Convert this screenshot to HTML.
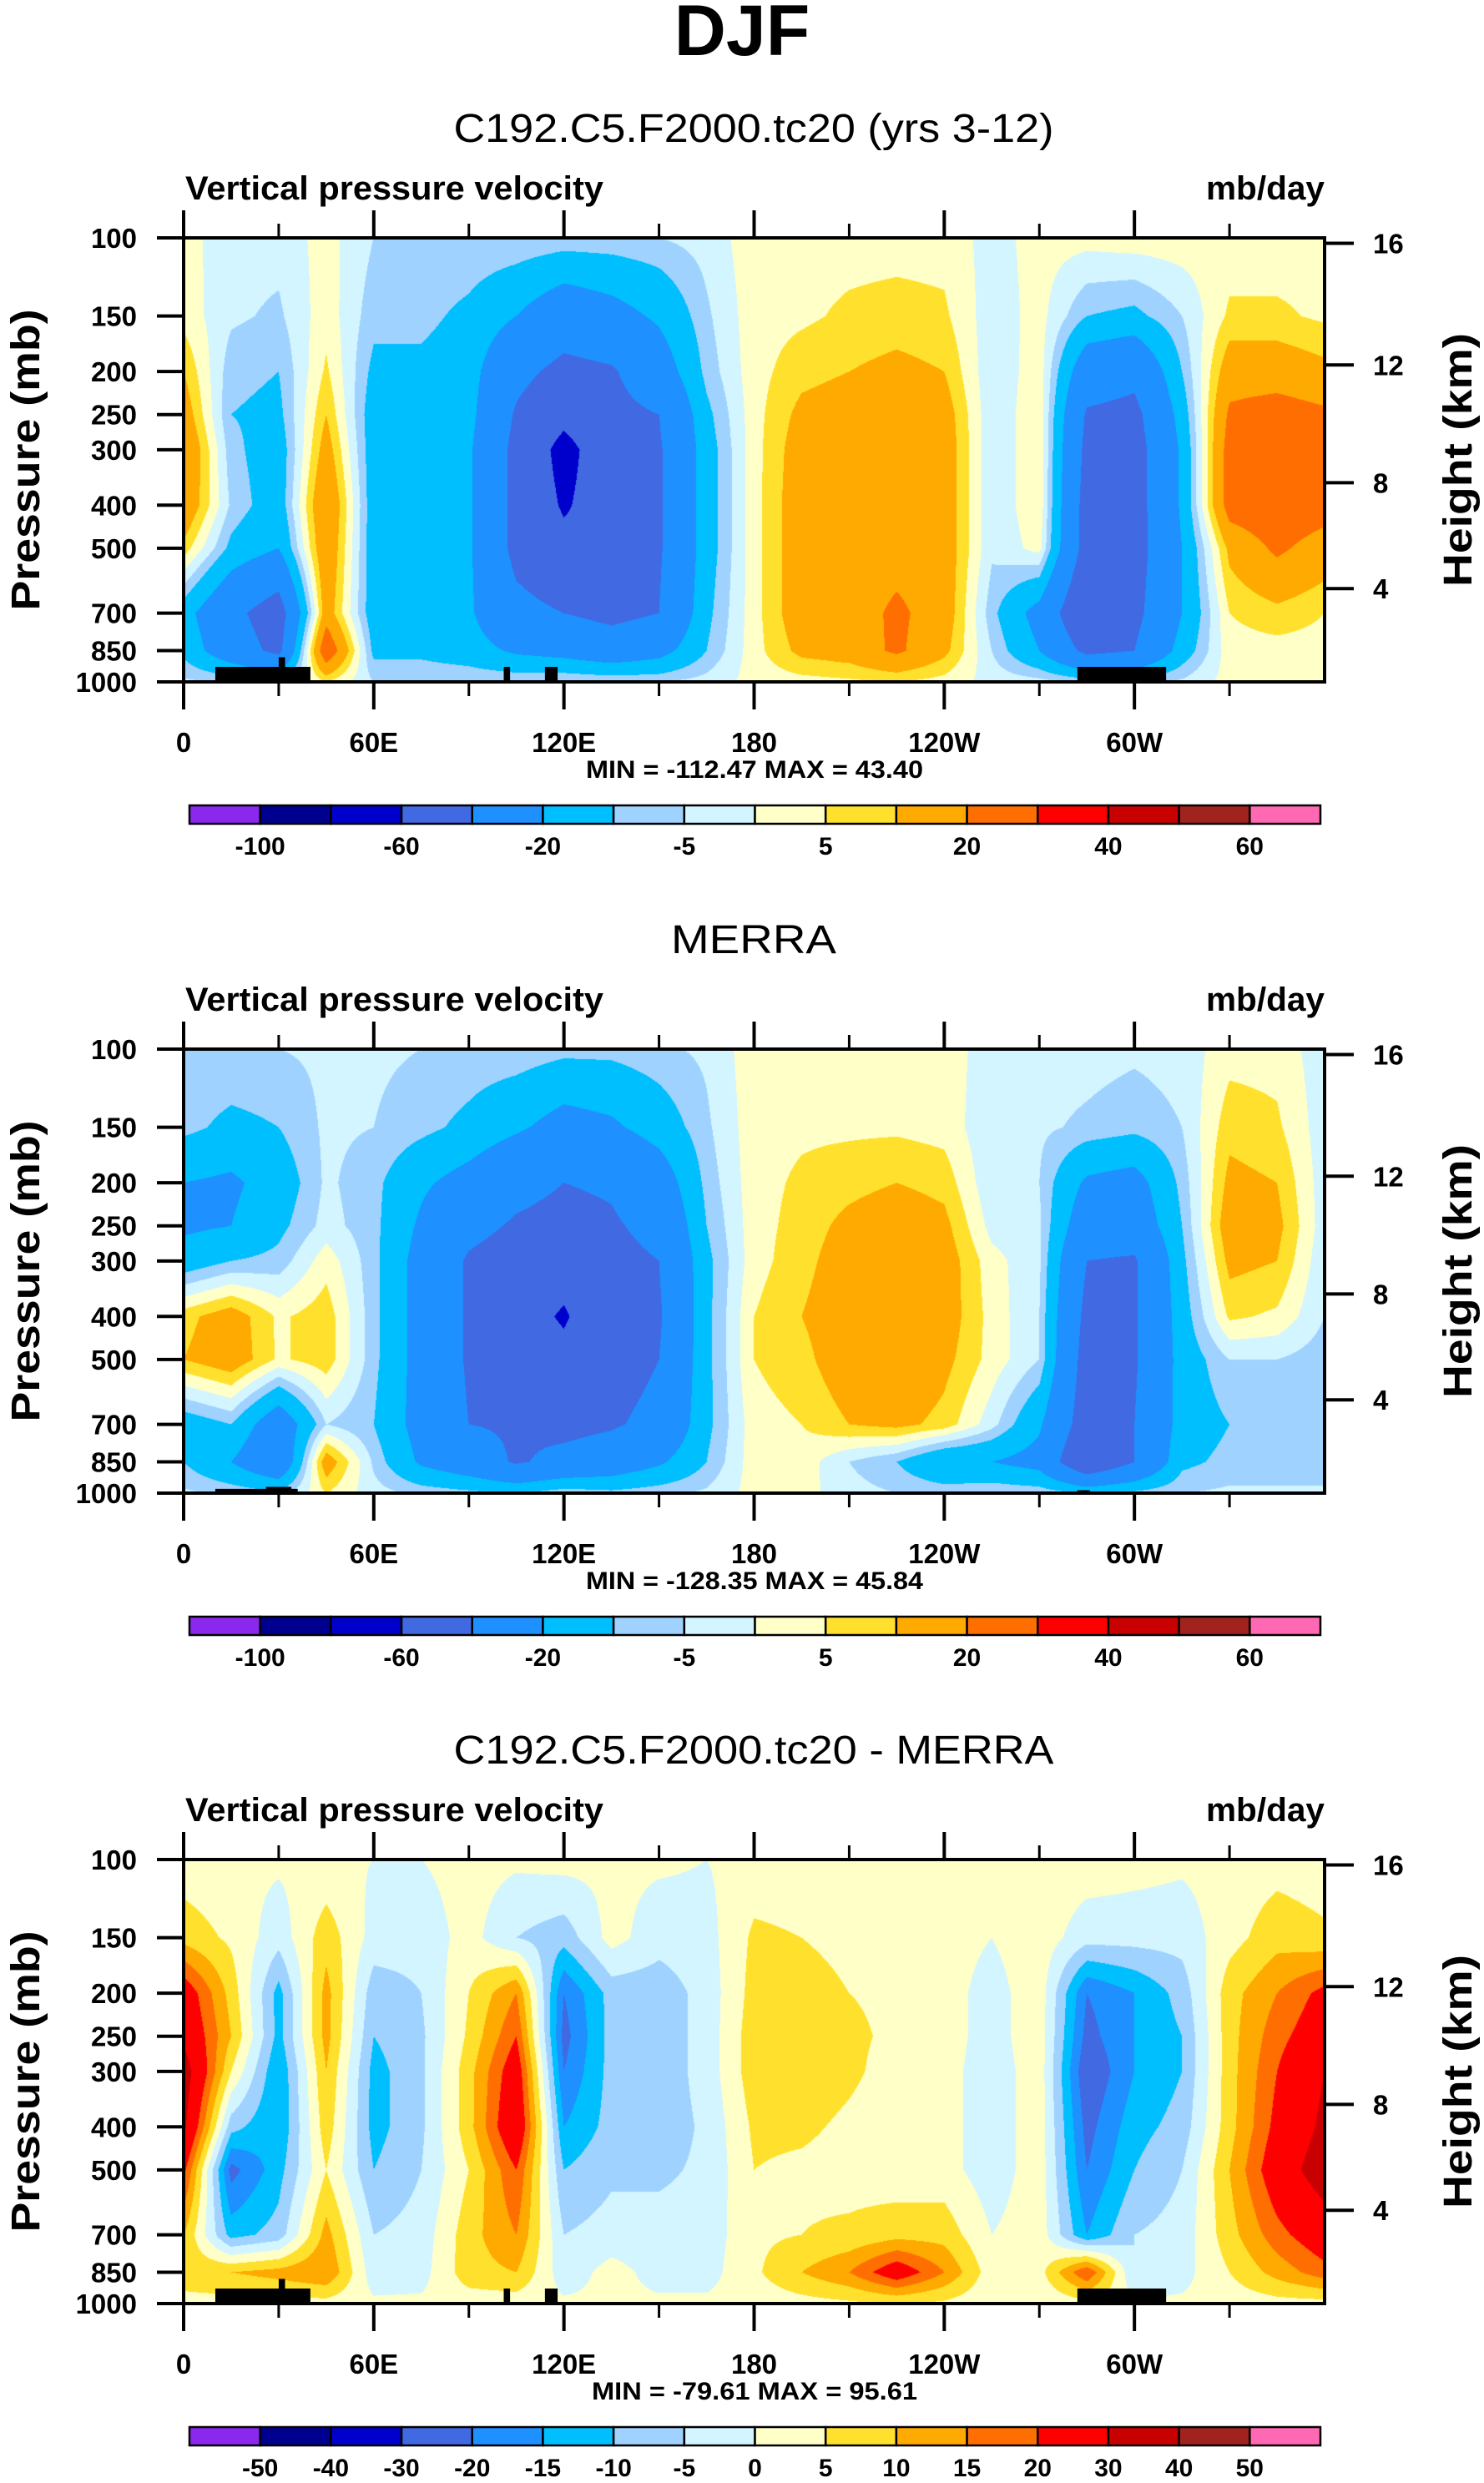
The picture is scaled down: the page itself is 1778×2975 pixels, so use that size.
<!DOCTYPE html>
<html><head><meta charset="utf-8">
<style>
html,body{margin:0;padding:0;background:#fff;}
#wrap{position:relative;width:1778px;height:2975px;overflow:hidden;}
canvas{position:absolute;}
svg{position:absolute;left:0;top:0;}
text{font-family:"Liberation Sans",sans-serif;fill:#000;}
</style></head>
<body>
<div id="wrap">
<canvas id="c0"></canvas>
<canvas id="c1"></canvas>
<canvas id="c2"></canvas>
<svg id="svg" width="1778" height="2975" viewBox="0 0 1778 2975"></svg>
</div>
<script>
// ---------- data ----------
const lons = [0,15,30,45,60,75,90,105,120,135,150,165,180,195,210,225,240,255,270,285,300,315,330,345,360];
const levels = [100,150,200,250,300,400,500,700,850,1000];
const heightsKm = [4,8,12,16];
const lonTickLabels = ["0","60E","120E","180","120W","60W"];
const lonTickValues = [0,60,120,180,240,300];
const lonMinorValues = [30,90,150,210,270,330];
const titles = ["C192.C5.F2000.tc20 (yrs 3-12)","MERRA","C192.C5.F2000.tc20 - MERRA"];
const minmax = ["MIN = -112.47  MAX =  43.40","MIN = -128.35  MAX =  45.84","MIN = -79.61  MAX =  95.61"];
const boundsAbs = [-100,-80,-60,-40,-20,-10,-5,0,5,10,20,30,40,50,60];
const boundsDiff = [-50,-40,-30,-20,-15,-10,-5,0,5,10,15,20,30,40,50];
const labelsAbs = ["-100","","-60","","-20","","-5","","5","","20","","40","","60"];
const labelsDiff = ["-50","-40","-30","-20","-15","-10","-5","0","5","10","15","20","30","40","50"];
const colors = ["#8a28ee","#00008f","#0000cd","#4169e1","#1e90ff","#00bfff","#a0d2ff","#d2f5ff","#ffffc8","#ffe12d","#ffaa00","#ff6e00","#ff0000","#c80000","#a0231e","#ff69b4"];

const model = [
[2,-3,-3,2,-5,-5,-5,-5,-6,-6,-5,-3,3,3,3,3,3,-2,2,2,3,3,2,2,3],
[3,-4,-6,3,-8,-8,-12,-20,-30,-25,-18,-6,3,4,6,7,6,-3,2,-10,-12,-5,6,6,4],
[10,-8,-10,6,-12,-12,-15,-35,-45,-42,-28,-8,3,8,10,12,10,-4,3,-30,-35,-10,15,15,12],
[15,-10,-12,10,-15,-15,-16,-42,-55,-45,-40,-12,3,12,14,12,14,-4,4,-42,-45,-15,22,25,22],
[20,-8,-15,14,-15,-15,-18,-45,-66,-48,-42,-14,3,14,15,13,15,-4,4,-45,-48,-18,25,25,25],
[18,-6,-15,20,-15,-15,-18,-45,-62,-50,-42,-14,3,15,15,15,15,-4,4,-48,-48,-18,25,28,25],
[8,-12,-20,18,-15,-15,-18,-45,-55,-60,-42,-14,3,15,15,16,15,-4,2,-48,-48,-20,12,22,15],
[-15,-35,-50,15,-15,-15,-18,-35,-40,-45,-40,-12,3,15,15,22,15,-8,-25,-60,-45,-20,5,8,5],
[-12,-30,-45,30,-12,-12,-15,-22,-25,-30,-25,-10,3,12,14,22,12,-5,-20,-45,-40,-15,3,3,3],
[-4,-5,-6,5,-5,-5,-5,-5,-4,-5,-5,-3,2,3,4,5,3,-2,-3,-6,-6,-4,2,2,2]];
const merra = [
[-5,-5,-5,-4,-4,-5,-6,-6,-8,-8,-6,-4,3,3,3,3,3,-3,-3,-3,-4,-3,3,3,-3],
[-8,-12,-10,-4,-5,-8,-12,-18,-25,-22,-15,-6,3,4,4,4,3,-4,-4,-6,-8,-5,8,6,-3],
[-20,-22,-15,-4,-8,-18,-25,-35,-40,-38,-28,-8,3,6,8,10,8,-4,-5,-22,-25,-8,12,10,-3],
[-22,-20,-12,-3,-8,-22,-35,-42,-45,-42,-35,-10,3,7,12,15,12,-2,-4,-30,-30,-10,15,12,-3],
[-15,-10,-8,3,-8,-25,-42,-48,-52,-45,-40,-12,3,8,14,20,14,2,-4,-40,-42,-12,12,10,-4],
[8,14,4,8,-8,-25,-42,-52,-62,-45,-42,-12,5,10,15,20,14,3,-5,-45,-42,-14,6,4,-5],
[10,15,4,8,-8,-25,-42,-50,-55,-48,-40,-12,5,8,15,18,12,3,-5,-48,-42,-15,-5,-5,-8],
[-15,-10,-30,-5,-10,-25,-40,-42,-45,-42,-35,-12,3,5,10,12,8,-3,-18,-50,-40,-15,-10,-10,-10],
[-10,-20,-35,15,-6,-22,-30,-42,-35,-30,-22,-10,3,3,-5,-10,-20,-20,-25,-60,-40,-12,-8,-8,-8],
[-4,-6,-8,5,-3,-6,-8,-10,-6,-8,-6,-4,2,2,-3,-5,-6,-5,-6,-10,-8,-5,-4,-4,-4]];
const diff = [
[2,1,1,1,0,0,2,1,2,1,1,0,2,2,2,1,1,0,3,3,2,1,2,3,2],
[8,4,-3,8,-2,-3,2,-5,-8,2,-3,-2,6,5,3,2,2,0,3,-3,-3,-3,3,8,6],
[25,8,-12,12,-8,-5,5,15,-20,-8,-8,-3,7,8,5,4,2,-2,3,-20,-15,-8,8,15,22],
[28,10,-12,12,-10,-6,6,20,-22,-8,-8,-3,8,8,6,4,2,-2,3,-22,-15,-10,8,18,25],
[35,5,-15,10,-12,-6,8,25,-20,-8,-8,-3,8,8,6,3,2,-3,3,-25,-15,-10,8,20,30],
[32,-8,-15,8,-12,-6,8,28,-15,-8,-8,-4,6,6,4,2,2,-3,3,-22,-12,-8,8,22,32],
[22,-22,-12,5,-10,-5,5,20,-10,-6,-6,-4,5,4,3,2,2,-3,3,-20,-10,-5,10,25,35],
[10,-12,-8,12,-5,-3,8,15,-5,-3,-3,-3,4,5,6,8,8,0,3,-15,-5,-3,8,18,25],
[8,10,12,15,-3,-2,8,10,-3,2,-2,-2,4,10,15,25,15,2,3,20,-5,-2,5,12,18],
[3,3,3,3,1,1,2,2,1,1,1,1,2,3,4,5,4,1,1,3,1,1,2,3,3]];
// topography: [lonStart, lonEnd, pressureTop]
const topoModel = [[10,40,925],[30,32,880],[101,103,925],[114,118,925],[282,310,925]];
const topoMerra = [[10,36,978],[26,34,968],[282,286,985]];

// ---------- layout ----------
const X0=220, X1=1587, H=532;
const tops=[285,1257,2228];
const fields=[model,merra,diff];
const topos=[topoModel,topoMerra,topoModel];
const NS="http://www.w3.org/2000/svg";
const svg=document.getElementById('svg');
function xOf(lon){return X0+(X1-X0)*lon/360;}
function yOf(p,T){return T+H*Math.log10(p/100);}
function pOfZ(zkm){const z=zkm*1000; if(z<=11000) return 1013.25*Math.pow(1-2.25577e-5*z,5.25588); return 226.32*Math.exp(-(z-11000)/6341.6);}
function hexRGB(h){return [parseInt(h.substr(1,2),16),parseInt(h.substr(3,2),16),parseInt(h.substr(5,2),16)];}
const rgb=colors.map(hexRGB);
function mk(tag,attrs,parent){const e=document.createElementNS(NS,tag);for(const k in attrs)e.setAttribute(k,attrs[k]);(parent||svg).appendChild(e);return e;}
function txt(s,x,y,size,opts,parent){opts=opts||{};const t=mk('text',{x:x,y:y,'font-size':size,'font-weight':opts.w||'bold','text-anchor':opts.a||'middle'},parent);if(opts.len){t.setAttribute('textLength',opts.len);t.setAttribute('lengthAdjust','spacingAndGlyphs');}if(opts.tr)t.setAttribute('transform',opts.tr);t.textContent=s;return t;}

const logLv=levels.map(p=>Math.log10(p));
function sample(F,lon,p){
  let fi=lon/15; let i=Math.min(Math.floor(fi),lons.length-2); let fx=fi-i;
  const lp=Math.log10(p); let j=0; while(j<levels.length-2 && lp>logLv[j+1]) j++;
  let fy=(lp-logLv[j])/(logLv[j+1]-logLv[j]); fy=Math.max(0,Math.min(1,fy));
  const a=F[j][i],b=F[j][i+1],c=F[j+1][i],d=F[j+1][i+1];
  return (a*(1-fx)+b*fx)*(1-fy)+(c*(1-fx)+d*fx)*fy;
}
function level(v,B){let k=0;while(k<B.length && v>=B[k])k++;return k;}

for(let k=0;k<3;k++){
  const T=tops[k], F=fields[k], B=(k==2?boundsDiff:boundsAbs);
  const cv=document.getElementById('c'+k);
  const W=X1-X0; cv.width=W; cv.height=H; cv.style.left=X0+'px'; cv.style.top=T+'px';
  const ctx=cv.getContext('2d'); const im=ctx.createImageData(W,H);
  for(let y=0;y<H;y++){const p=100*Math.pow(10,(y+0.5)/H);
    for(let x=0;x<W;x++){const lon=360*(x+0.5)/W; const c=rgb[level(sample(F,lon,p),B)]; const o=(y*W+x)*4;
      im.data[o]=c[0];im.data[o+1]=c[1];im.data[o+2]=c[2];im.data[o+3]=255;}}
  ctx.putImageData(im,0,0);
  const g=mk('g',{});
  
  
  topos[k].forEach(tp=>{const r=mk('rect',{x:xOf(tp[0]),y:yOf(tp[2],T),width:xOf(tp[1])-xOf(tp[0]),height:T+H-yOf(tp[2],T),fill:'#000'},g);
    
    });
  const fr=mk('rect',{x:X0,y:T,width:X1-X0,height:H,fill:'none',stroke:'#000','stroke-width':4},g);
  
  
  lonTickValues.forEach((v,i)=>{const x=xOf(v);
    mk('line',{x1:x,x2:x,y1:T-33,y2:T,stroke:'#000','stroke-width':4},g);
    mk('line',{x1:x,x2:x,y1:T+H,y2:T+H+33,stroke:'#000','stroke-width':4},g);
    const t=txt(lonTickLabels[i],x,T+616,33,{},g);
    
    });
  lonMinorValues.forEach(v=>{const x=xOf(v);
    mk('line',{x1:x,x2:x,y1:T-17,y2:T,stroke:'#000','stroke-width':3},g);
    mk('line',{x1:x,x2:x,y1:T+H,y2:T+H+17,stroke:'#000','stroke-width':3},g);});
  levels.forEach(p=>{const y=yOf(p,T);
    mk('line',{x1:X0-32,x2:X0,y1:y,y2:y,stroke:'#000','stroke-width':4},g);
    const t=txt(String(p),164,y+12,33,{a:'end'},g);
    
    });
  heightsKm.forEach(z=>{const y=yOf(pOfZ(z),T);
    mk('line',{x1:X1,x2:X1+35,y1:y,y2:y,stroke:'#000','stroke-width':4},g);
    const t=txt(String(z),1645,y+12,33,{a:'start'},g);
    
    });
  const yl=txt('Pressure (mb)',0,0,48,{len:361,tr:'translate(47,'+(T+266)+') rotate(-90)'},g);
  
  
  const yr=txt('Height (km)',0,0,48,{len:304,tr:'translate(1763,'+(T+266)+') rotate(-90)'},g);
  
  
  const st=txt(titles[k],903,T-115,48,{w:'normal',len:[719,198,719][k]},g);
  
  
  const vl=txt('Vertical pressure velocity',X0+2,T-46,40,{a:'start',len:501},g);
  
  
  const ul=txt('mb/day',X1,T-46,40,{a:'end',len:142},g);
  
  
  const mm=txt(minmax[k],904,T+647,30,{len:[404,404,390][k]},g);
  
  
  const cb0=227, cb1=1582, cw=(cb1-cb0)/colors.length, cy=T+680, ch=22;
  const cg=mk('g',{},g);
  
  
  colors.forEach((c,i)=>{const r=mk('rect',{x:cb0+i*cw,y:cy,width:cw,height:ch,fill:c,stroke:'#000','stroke-width':2.5},cg);
    
    });
  const L=(k==2?labelsDiff:labelsAbs);
  L.forEach((s,i)=>{if(!s)return;const t=txt(s,cb0+(i+1)*cw,T+739,30,{},cg);
    
    });
}
const main=txt('DJF',889,66,86);


</script>
</body></html>
